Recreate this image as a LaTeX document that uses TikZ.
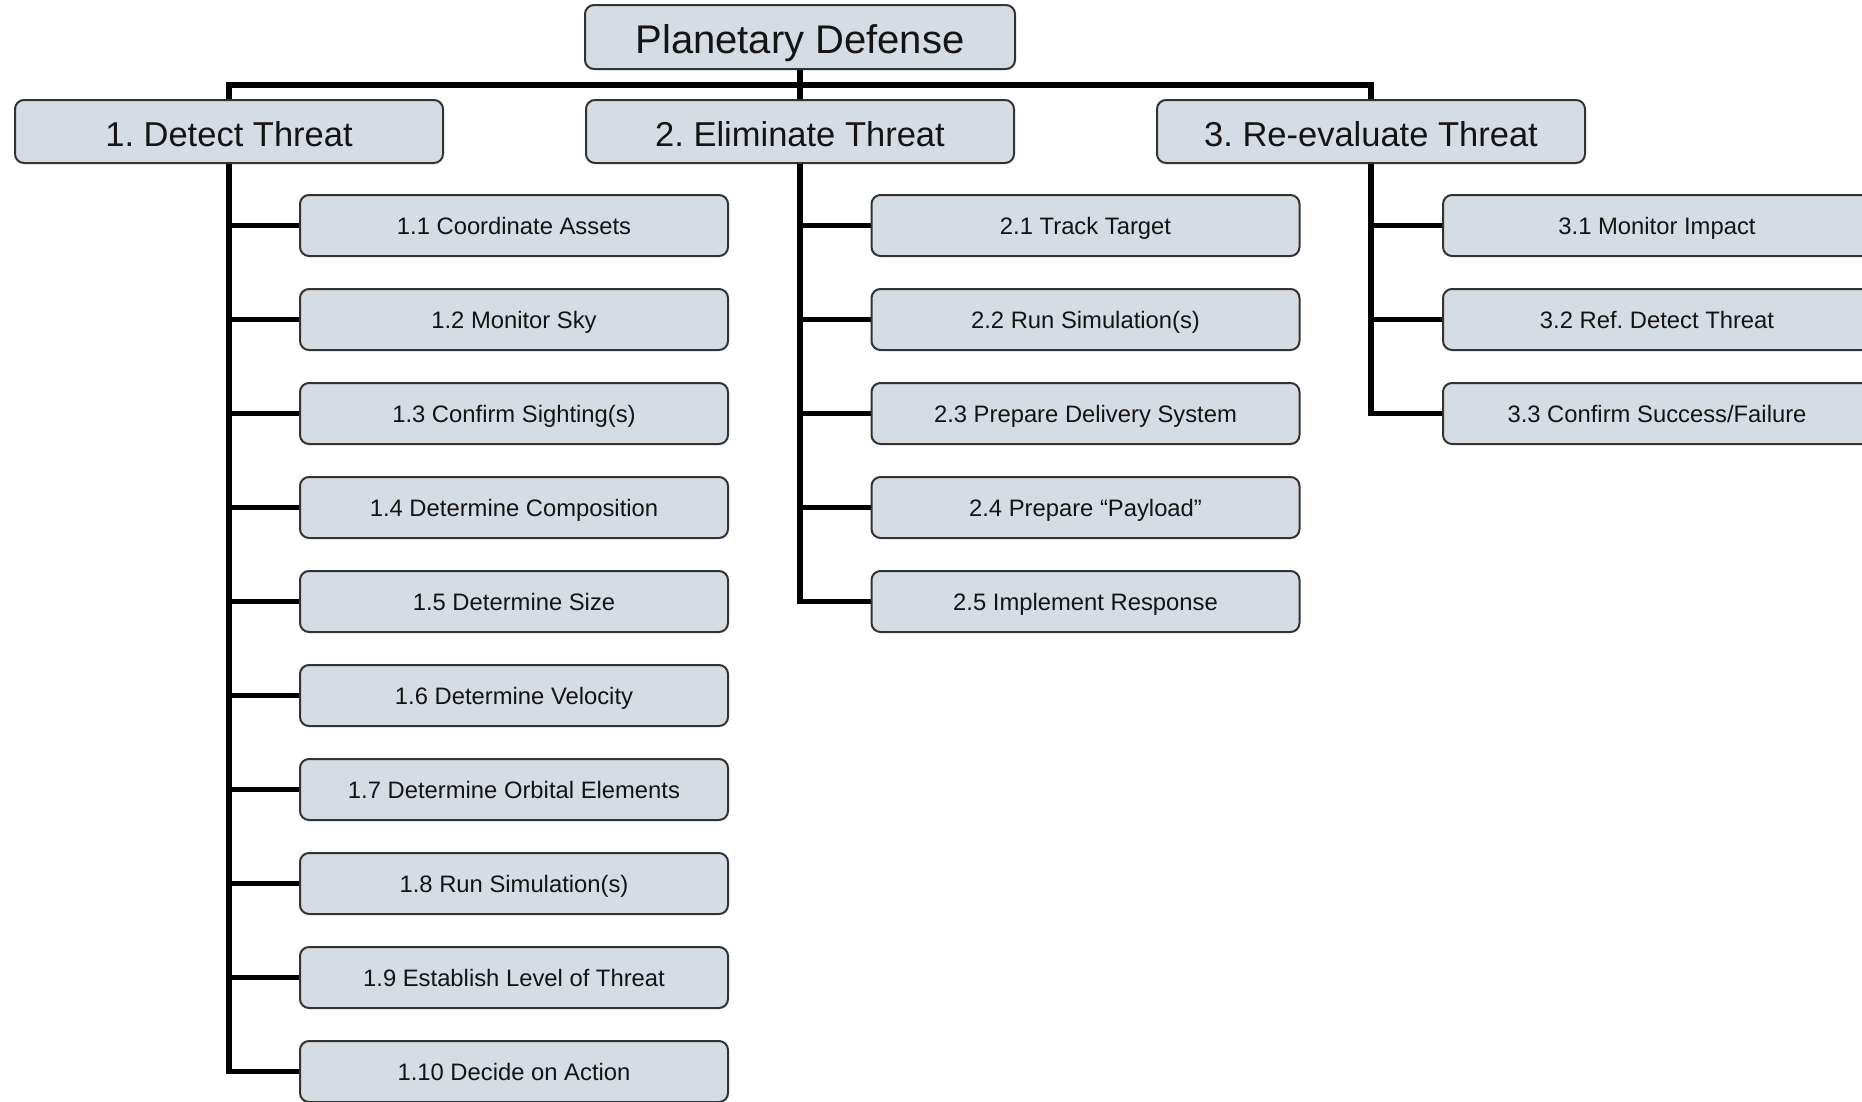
\documentclass[tikz,border=0pt]{standalone}
\usepackage{fontspec}
\setmainfont{Liberation Sans}
\usetikzlibrary{backgrounds}
\frenchspacing
\definecolor{boxfill}{HTML}{D6DCE4}
\definecolor{boxline}{HTML}{333333}
\definecolor{textcol}{HTML}{141414}
\tikzset{
  wbsbox/.style={rectangle, rounded corners=9pt, draw=boxline, line width=2pt,
    fill=boxfill, text=textcol, minimum width=428pt, inner sep=0pt, text depth=0pt},
  rootbox/.style={wbsbox, minimum width=430pt, minimum height=64pt,
    text height=32pt, font=\fontsize{40}{48}\selectfont},
  phasebox/.style={wbsbox, minimum height=63pt, text height=30pt,
    font=\fontsize{34.5}{41}\selectfont},
  taskbox/.style={wbsbox, minimum height=61pt, text height=18.5pt,
    font=\fontsize{23.8}{28}\selectfont},
  conn/.style={line width=5.5pt, black, line join=miter}
}
\begin{document}
\begin{tikzpicture}[x=1pt,y=-1pt]
\useasboundingbox (0,0) rectangle (1862,1101);
\clip (0,0) rectangle (1862,1101);

% root and phases
\node[rootbox]  (root) at (800,37)    {Planetary Defense};
\node[phasebox] (p1)   at (229,131.5) {1. Detect Threat};
\node[phasebox] (p2)   at (800,131.5) {2. Eliminate Threat};
\node[phasebox] (p3)   at (1371,131.5){3. Re-evaluate Threat};

% phase 1 tasks
\foreach \i/\t [count=\k from 0] in {
  1/{1.1 Coordinate Assets},
  2/{1.2 Monitor Sky},
  3/{1.3 Confirm Sighting(s)},
  4/{1.4 Determine Composition},
  5/{1.5 Determine Size},
  6/{1.6 Determine Velocity},
  7/{1.7 Determine Orbital Elements},
  8/{1.8 Run Simulation(s)},
  9/{1.9 Establish Level of Threat},
  10/{1.10 Decide on Action}}
  \node[taskbox] (a\i) at (514,225.5+94*\k) {\t};

% phase 2 tasks
\foreach \i/\t [count=\k from 0] in {
  1/{2.1 Track Target},
  2/{2.2 Run Simulation(s)},
  3/{2.3 Prepare Delivery System},
  4/{2.4 Prepare “Payload”},
  5/{2.5 Implement Response}}
  \node[taskbox] (b\i) at (1085.5,225.5+94*\k) {\t};

% phase 3 tasks
\foreach \i/\t [count=\k from 0] in {
  1/{3.1 Monitor Impact},
  2/{3.2 Ref. Detect Threat},
  3/{3.3 Confirm Success/Failure}}
  \node[taskbox] (c\i) at (1657,225.5+94*\k) {\t};

\begin{scope}[on background layer]
  % top bus
  \coordinate (bus) at (800,85);
  \draw[conn] (root.south) -- (bus);
  \draw[conn] (p1.north) |- (bus) -| (p3.north);
  \draw[conn] (p2.north) -- (bus);
  % spines
  \draw[conn] (p1.south) |- (a10.west);
  \foreach \i in {1,...,9} \draw[conn] (p1.south |- a\i.west) -- (a\i.west);
  \draw[conn] (p2.south) |- (b5.west);
  \foreach \i in {1,...,4} \draw[conn] (p2.south |- b\i.west) -- (b\i.west);
  \draw[conn] (p3.south) |- (c3.west);
  \foreach \i in {1,2} \draw[conn] (p3.south |- c\i.west) -- (c\i.west);
\end{scope}
\end{tikzpicture}
\end{document}
